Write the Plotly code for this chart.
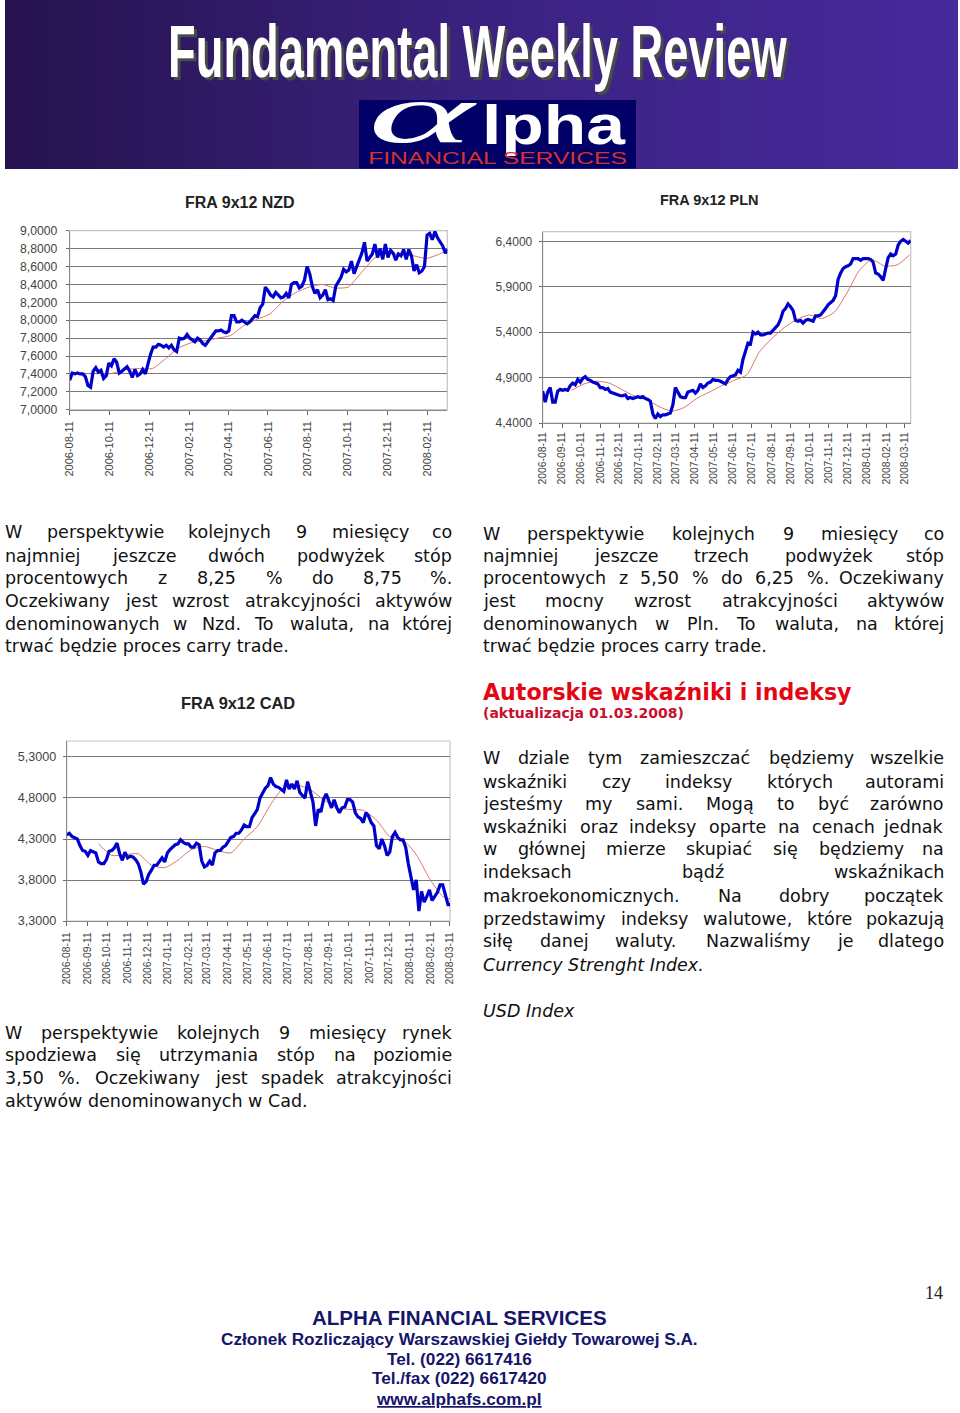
import pandas as pd
import plotly.graph_objects as go

# ---------- data ----------
NZD_BLUE = [7.33,7.41,7.40,7.41,7.40,7.40,7.37,7.27,7.25,7.43,7.47,7.42,7.44,7.35,7.38,7.52,7.49,7.57,7.53,7.41,
7.43,7.46,7.48,7.43,7.36,7.45,7.38,7.40,7.45,7.40,7.53,7.62,7.70,7.70,7.73,7.72,7.70,7.72,7.69,7.72,
7.67,7.65,7.80,7.79,7.80,7.84,7.80,7.78,7.76,7.80,7.78,7.74,7.72,7.76,7.80,7.85,7.88,7.88,7.89,7.87,
7.86,7.88,8.05,8.05,7.98,7.98,8.00,7.98,7.96,7.98,8.02,8.05,8.04,8.14,8.18,8.37,8.33,8.28,8.26,8.31,
8.28,8.25,8.26,8.30,8.25,8.40,8.42,8.42,8.36,8.38,8.45,8.60,8.52,8.38,8.30,8.34,8.25,8.28,8.34,8.23,
8.24,8.22,8.38,8.44,8.48,8.57,8.54,8.56,8.66,8.52,8.60,8.68,8.75,8.87,8.66,8.70,8.74,8.85,8.70,8.80,
8.68,8.85,8.70,8.78,8.75,8.67,8.74,8.72,8.79,8.68,8.79,8.72,8.55,8.62,8.53,8.55,8.60,8.95,8.97,8.90,
8.99,8.92,8.88,8.83,8.75,8.79]
NZD_RED = [7.38,7.41,7.45,7.46,7.46,7.57,7.69,7.75,7.77,7.80,7.83,7.94,8.01,8.07,8.21,8.31,8.37,8.40,8.36,8.37,
8.53,8.69,8.75,8.73,8.72,8.69,8.74,8.82]

PLN_BLUE = [4.75,4.63,4.74,4.79,4.63,4.63,4.75,4.77,4.76,4.77,4.76,4.81,4.84,4.82,4.88,4.85,4.89,4.91,4.88,4.87,
4.85,4.84,4.83,4.79,4.79,4.77,4.78,4.74,4.73,4.72,4.71,4.70,4.70,4.71,4.67,4.68,4.67,4.68,4.69,4.68,
4.69,4.67,4.66,4.64,4.50,4.45,4.50,4.47,4.49,4.49,4.50,4.51,4.60,4.79,4.74,4.69,4.68,4.68,4.74,4.75,
4.76,4.73,4.76,4.83,4.79,4.81,4.84,4.85,4.88,4.87,4.87,4.86,4.84,4.83,4.88,4.91,4.92,4.93,4.98,4.96,
5.10,5.19,5.28,5.27,5.40,5.38,5.40,5.37,5.37,5.38,5.39,5.39,5.42,5.46,5.48,5.54,5.63,5.66,5.71,5.68,
5.64,5.53,5.52,5.53,5.50,5.53,5.54,5.53,5.52,5.58,5.58,5.59,5.62,5.66,5.70,5.73,5.75,5.80,5.98,6.05,
6.10,6.12,6.13,6.15,6.21,6.21,6.21,6.19,6.21,6.21,6.21,6.20,6.17,6.05,6.04,6.01,5.97,6.10,6.22,6.26,
6.24,6.26,6.36,6.40,6.42,6.40,6.38,6.41]
PLN_RED = [4.76,4.83,4.86,4.84,4.77,4.70,4.66,4.58,4.53,4.57,4.67,4.74,4.81,4.87,4.93,5.18,5.33,5.45,5.54,5.59,
5.55,5.62,5.83,6.08,6.20,6.13,6.14,6.25]

CAD_BLUE = [4.35,4.37,4.33,4.31,4.30,4.22,4.16,4.15,4.10,4.16,4.15,4.13,4.02,4.00,4.00,4.05,4.15,4.16,4.19,4.25,
4.12,4.04,4.14,4.07,4.09,4.08,4.05,4.00,3.90,3.75,3.78,3.87,3.92,3.98,3.98,4.03,4.07,4.02,4.13,4.17,
4.20,4.23,4.24,4.29,4.26,4.24,4.24,4.20,4.20,4.25,4.23,4.03,3.96,3.98,4.03,3.98,4.13,4.16,4.16,4.20,
4.22,4.27,4.32,4.33,4.37,4.37,4.41,4.47,4.45,4.45,4.56,4.61,4.66,4.80,4.87,4.92,4.95,5.05,4.97,4.94,
4.93,4.90,4.88,5.02,4.91,4.97,4.91,5.01,4.87,4.83,4.80,5.00,4.88,4.75,4.46,4.66,4.63,4.78,4.85,4.75,
4.68,4.78,4.68,4.62,4.68,4.69,4.78,4.78,4.75,4.62,4.57,4.55,4.50,4.62,4.58,4.50,4.46,4.22,4.18,4.30,
4.22,4.10,4.14,4.33,4.38,4.32,4.29,4.29,4.20,4.00,3.85,3.68,3.80,3.42,3.66,3.53,3.60,3.68,3.55,3.60,
3.65,3.74,3.74,3.62,3.50,3.50]
CAD_RED = [4.24,4.10,4.11,4.12,3.98,3.95,4.04,4.17,4.21,4.16,4.13,4.30,4.45,4.72,4.93,4.96,4.90,4.78,4.68,4.66,
4.65,4.53,4.33,4.29,4.11,3.82,3.60,3.55]

NZD_XTICKS = ["2006-08-11","2006-10-11","2006-12-11","2007-02-11","2007-04-11","2007-06-11","2007-08-11","2007-10-11","2007-12-11","2008-02-11"]
MONTH_XTICKS = ["2006-08-11","2006-09-11","2006-10-11","2006-11-11","2006-12-11","2007-01-11","2007-02-11","2007-03-11","2007-04-11","2007-05-11","2007-06-11","2007-07-11","2007-08-11","2007-09-11","2007-10-11","2007-11-11","2007-12-11","2008-01-11","2008-02-11","2008-03-11"]
PLN_XTICKS = MONTH_XTICKS
CAD_XTICKS = MONTH_XTICKS
NZD_YTICKS = [7.0,7.2,7.4,7.6,7.8,8.0,8.2,8.4,8.6,8.8,9.0]
PLN_YTICKS = [4.4,4.9,5.4,5.9,6.4]
CAD_YTICKS = [3.3,3.8,4.3,4.8,5.3]

TEXT_NZD = ["W perspektywie kolejnych 9 miesięcy co","najmniej jeszcze dwóch podwyżek stóp",
 "procentowych z 8,25 % do 8,75 %.","Oczekiwany jest wzrost atrakcyjności aktywów",
 "denominowanych w Nzd. To waluta, na której","trwać będzie proces carry trade."]
TEXT_PLN = ["W perspektywie kolejnych 9 miesięcy co","najmniej jeszcze trzech podwyżek stóp",
 "procentowych z 5,50 % do 6,25 %. Oczekiwany","jest mocny wzrost atrakcyjności aktywów",
 "denominowanych w Pln. To waluta, na której","trwać będzie proces carry trade."]
TEXT_IDX = ["W dziale tym zamieszczać będziemy wszelkie","wskaźniki czy indeksy których autorami",
 "jesteśmy my sami. Mogą to być zarówno","wskaźniki oraz indeksy oparte na cenach jednak",
 "w głównej mierze skupiać się będziemy na","indeksach bądź wskaźnikach",
 "makroekonomicznych. Na dobry początek","przedstawimy indeksy walutowe, które pokazują",
 "siłę danej waluty. Nazwaliśmy je dlatego"]
TEXT_CAD = ["W perspektywie kolejnych 9 miesięcy rynek","spodziewa się utrzymania stóp na poziomie",
 "3,50 %. Oczekiwany jest spadek atrakcyjności","aktywów denominowanych w Cad."]

W, H = 960, 1413
BLUE, RED = "#0000cc", "#d8766a"
BODY = "DejaVu Sans"
NAVY = "#15156a"

def px(x): return x / W
def py(y): return 1 - y / H

ann = []
def t(text, x, y, size, color="#111111", family=BODY, anchor="left", **font):
    ann.append(dict(text=text, x=px(x), y=py(y), xref="paper", yref="paper", showarrow=False,
                    xanchor=anchor, yanchor="middle", borderpad=0,
                    font=dict(size=size, color=color, family=family, **font)))

CW = dict(zip("abcdefghijklmnopqrstuvwxyz",
  [.613,.635,.55,.635,.615,.352,.635,.634,.278,.278,.579,.278,.974,.634,.612,.635,.635,.411,.521,.392,.634,.592,.818,.592,.592,.525]))
CW.update({"W":.989,"O":.787,"N":.748,"T":.611,"P":.603,"C":.698,"M":.863,",":.318,".":.318,"%":.95})
CW.update({"ę":.615,"ó":.612,"ż":.525,"ś":.521,"ć":.55,"ź":.525,"ą":.613,"ł":.278,"ń":.634})
def width(word, size):
    return sum(CW.get(c, .636) for c in word) * size

def justified(lines, x0, x1, ys, size, last_free=True):
    for i, (line, y) in enumerate(zip(lines, ys)):
        words = line.split(" ")
        free = last_free and i == len(lines) - 1
        if free:
            t(line, x0, y, size)
            continue
        widths = [width(w, size) for w in words]
        gap = (x1 - x0 - sum(widths)) / (len(words) - 1)
        x = x0
        for j, w in enumerate(words):
            if j == len(words) - 1:
                t(w, x1, y, size, anchor="right")
            else:
                t(w, x, y, size)
            x += widths[j] + gap

def series(name, blue, red, start_red, ax):
    blue_x = pd.date_range("2006-08-11", periods=len(blue), freq="4D")
    red_x = pd.date_range(start_red, periods=len(red), freq="20D")
    return [
        go.Scatter(x=red_x, y=red, mode="lines", line=dict(color=RED, width=1, shape="spline", smoothing=0.6),
                   xaxis="x"+ax, yaxis="y"+ax, hoverinfo="skip", name=name+" avg"),
        go.Scatter(x=blue_x, y=blue, mode="lines", line=dict(color=BLUE, width=3.2),
                   xaxis="x"+ax, yaxis="y"+ax, hoverinfo="skip", name=name),
    ]

fig = go.Figure()
# banner gradient
fig.add_trace(go.Heatmap(z=[[0, 1, 2], [0, 1, 2]], x=[0, 1, 2], y=[0, 1], xaxis="x4", yaxis="y4", zsmooth="best", showscale=False,
                         colorscale=[[0, "#26134e"], [0.5, "#3a2280"], [1, "#46299c"]], hoverinfo="skip"))
for tr in series("NZD", NZD_BLUE, NZD_RED, "2006-09-27", "") + \
          series("PLN", PLN_BLUE, PLN_RED, "2006-09-26", "2") + \
          series("CAD", CAD_BLUE, CAD_RED, "2006-09-28", "3"):
    fig.add_trace(tr)

def axes(left, right, top, bottom, xr, yr, xticks, yticks, ysize, xsize, ystand, xstand):
    xa = dict(domain=[px(left), px(right)], range=xr, type="date", tickmode="array", tickvals=xticks, ticktext=xticks,
              tickangle=-90, ticks="outside", ticklen=4, tickcolor="#666", showgrid=False, showline=True, linecolor="#888",
              linewidth=1, tickfont=dict(family="Liberation Sans", size=xsize, color="#444"), zeroline=False, automargin=False,
              ticklabelstandoff=xstand)
    ya = dict(domain=[py(bottom), py(top)], range=yr, tickmode="array", tickvals=yticks, tickformat=".4f",
              ticks="outside", ticklen=3, tickcolor="#666", showgrid=True, gridcolor="#7a7a7a", gridwidth=1.4,
              showline=True, linecolor="#888", linewidth=1, zeroline=False, automargin=False,
              tickfont=dict(family="Liberation Sans", size=ysize, color="#444"), ticklabelstandoff=ystand)
    return xa, ya

x1, y1 = axes(69.7, 447.3, 230.7, 409.7, ["2006-08-11", "2008-03-12"], [7, 9], NZD_XTICKS, NZD_YTICKS, 12.2, 11, 6, 2)
x2, y2 = axes(542.7, 910.7, 231.7, 423, ["2006-08-11", "2008-03-21"], [4.4, 6.506], PLN_XTICKS, PLN_YTICKS, 12, 10.4, 4, 0)
x3, y3 = axes(66.7, 450, 741, 921, ["2006-08-11", "2008-03-12"], [3.3, 5.495], CAD_XTICKS, CAD_YTICKS, 12.6, 10.4, 4, 2)
x2["anchor"] = "y2"; y2["anchor"] = "x2"; x3["anchor"] = "y3"; y3["anchor"] = "x3"
x4 = dict(domain=[px(5), px(958)], range=[0, 2], visible=False, anchor="y4", automargin=False)
y4 = dict(domain=[py(169), py(0)], range=[0, 1], visible=False, anchor="x4", automargin=False)

shapes = []
for l, r, tp, b in [(69.7, 447.3, 230.7, 409.7), (542.7, 910.7, 231.7, 423), (66.7, 450, 741, 921)]:
    shapes.append(dict(type="rect", xref="paper", yref="paper", x0=px(l), x1=px(r), y0=py(b), y1=py(tp),
                       line=dict(color="#c4c4c4", width=1.2), layer="below"))
shapes.append(dict(type="rect", xref="paper", yref="paper", x0=px(359), x1=px(636), y0=py(168.5), y1=py(100),
                   line=dict(width=0), fillcolor="#000066", layer="above"))

# banner text
TITLE = "Fundamental Weekly Review"
t(TITLE, 479.5, 55, 74, color="#4a4a4a", family="Liberation Sans", anchor="center", weight="bold")
t(TITLE, 477, 52, 74, color="#ffffff", family="Liberation Sans", anchor="center", weight="bold")
t("α", 423, 113, 84, color="#ffffff", family="Liberation Serif", anchor="center", style="italic")
t("lpha", 554, 124, 56, color="#ffffff", family="Liberation Sans", anchor="center", weight="bold")
t("FINANCIAL SERVICES", 497, 159, 17, color="#d8302c", family="Liberation Sans", anchor="center")

# chart titles
t("FRA 9x12 NZD", 239.5, 202, 16, color="#222", family="Liberation Sans", anchor="center", weight="bold")
t("FRA 9x12 PLN", 709, 200, 14.5, color="#222", family="Liberation Sans", anchor="center", weight="bold")
t("FRA 9x12 CAD", 238, 703, 16.4, color="#222", family="Liberation Sans", anchor="center", weight="bold")

# body text
justified(TEXT_NZD, 4, 453, [532, 556, 578, 601, 624, 646], 17.5)
justified(TEXT_PLN, 482, 945, [534, 556, 578, 601, 624, 646], 17.5)
t("Autorskie wskaźniki i indeksy", 482, 692, 22.1, color="#e30613", weight="bold")
t("(aktualizacja 01.03.2008)", 482, 713, 14, color="#c8102e", weight="bold")
justified(TEXT_IDX, 482, 945, [758, 782, 804, 827, 849, 872, 896, 919, 941], 17.5, last_free=False)
t("Currency Strenght Index.", 482, 965, 17.5, style="italic")
t("USD Index", 482, 1011, 17.5, style="italic")
justified(TEXT_CAD, 4, 453, [1033, 1055, 1078, 1101], 17.5)

# footer
F = "Liberation Sans"
t("ALPHA FINANCIAL SERVICES", 459, 1317, 20.5, color=NAVY, family=F, anchor="center", weight="bold")
t("Członek Rozliczający Warszawskiej Giełdy Towarowej S.A.", 459, 1339, 17.2, color=NAVY, family=F, anchor="center", weight="bold")
t("Tel. (022) 6617416", 459, 1359, 17.2, color=NAVY, family=F, anchor="center", weight="bold")
t("Tel./fax (022) 6617420", 459, 1378, 17.2, color=NAVY, family=F, anchor="center", weight="bold")
t("<u>www.alphafs.com.pl</u>", 459, 1399, 17.2, color=NAVY, family=F, anchor="center", weight="bold")
t("14", 934, 1293, 18, color="#222", family="Liberation Serif", anchor="center")

fig.update_layout(width=W, height=H, margin=dict(l=0, r=0, t=0, b=0), paper_bgcolor="white", plot_bgcolor="white",
                  showlegend=False, hovermode=False, separators=",.", annotations=ann, shapes=shapes,
                  xaxis=x1, yaxis=y1, xaxis2=x2, yaxis2=y2, xaxis3=x3, yaxis3=y3, xaxis4=x4, yaxis4=y4)

POST = """
document.documentElement.style.margin='0';
document.body.style.margin='0';
var gd=document.getElementById('{plot_id}');
function fit(txt,a,b,idx){
  var els=[].filter.call(gd.querySelectorAll('.annotation-text'),function(e){return e.textContent===txt;});
  els.forEach(function(e,i){
    if(idx!==undefined && i!==idx) return;
    var bb=e.getBBox(), r=e.getBoundingClientRect(), base=gd.getBoundingClientRect().left;
    var off=r.left-base-bb.x, s=(b-a)/r.width;
    e.setAttribute('transform','translate('+(a-off)+' 0) scale('+s+' 1) translate('+(-bb.x)+' 0)');
  });
}
fit('Fundamental Weekly Review',171,790,0);
fit('Fundamental Weekly Review',168,787,1);
fit('\\u03b1',368,478);
fit('lpha',482,626);
fit('FINANCIAL SERVICES',368,627);
"""
fig.write_html("out.html", post_script=POST, config={"displayModeBar": False})
